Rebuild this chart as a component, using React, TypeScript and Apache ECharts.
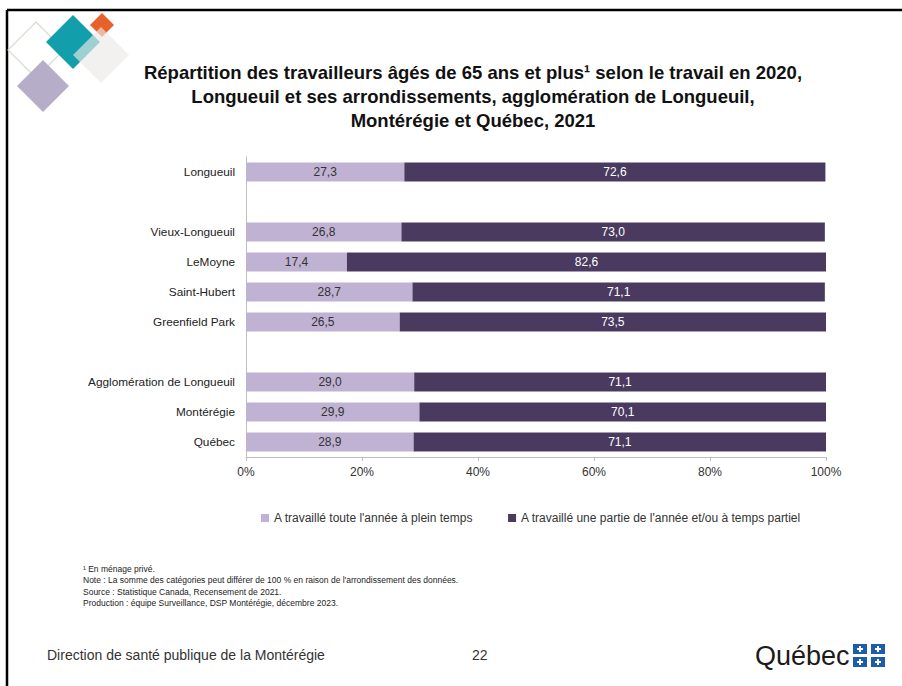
import React, { useEffect, useRef } from "react";
import * as echarts from "echarts";

const categories = [
  "Longueuil",
  " ",
  "Vieux-Longueuil",
  "LeMoyne",
  "Saint-Hubert",
  "Greenfield Park",
  "  ",
  "Agglomération de Longueuil",
  "Montérégie",
  "Québec",
];
const fullYear = [27.3, null, 26.8, 17.4, 28.7, 26.5, null, 29.0, 29.9, 28.9];
const partYear = [72.6, null, 73.0, 82.6, 71.1, 73.5, null, 71.1, 70.1, 71.1];
const seriesNames = [
  "A travaillé toute l'année à plein temps",
  "A travaillé une partie de l'année et/ou à temps partiel",
];
const titleLines = [
  "Répartition des travailleurs âgés de 65 ans et plus¹ selon le travail en 2020,",
  "Longueuil et ses arrondissements, agglomération de Longueuil,",
  "Montérégie et Québec, 2021",
];
const notes = [
  "¹ En ménage privé.",
  "Note : La somme des catégories peut différer de 100 % en raison de l'arrondissement des données.",
  "Source : Statistique Canada, Recensement de 2021.",
  "Production : équipe Surveillance, DSP Montérégie, décembre 2023.",
];
const footerLeft = "Direction de santé publique de la Montérégie";
const pageNumber = "22";

const FONT = "'Liberation Sans', sans-serif";

function diamond(cx: number, cy: number, r: number) {
  return [
    [cx, cy - r],
    [cx + r, cy],
    [cx, cy + r],
    [cx - r, cy],
  ];
}

const fmt = (p: any) =>
  p.value == null ? "" : Number(p.value).toFixed(1).replace(".", ",");

export default function App() {
  const ref = useRef<HTMLDivElement>(null);
  useEffect(() => {
    if (!ref.current) return;
    const chart = echarts.init(ref.current, null, { renderer: "svg" });
    const graphics: any[] = [
      // page border
      { type: "line", shape: { x1: 7, y1: 10, x2: 902, y2: 10 }, style: { stroke: "#000", lineWidth: 2.5 } },
      { type: "line", shape: { x1: 7, y1: 10, x2: 7, y2: 686 }, style: { stroke: "#000", lineWidth: 2.5 } },
      // logo diamonds
      { type: "polygon", shape: { points: diamond(36, 50, 28) }, style: { fill: "none", stroke: "#d6dccd", lineWidth: 1.2 } },
      { type: "polygon", shape: { points: diamond(43, 86, 26) }, style: { fill: "#b6aec9" } },
      { type: "polygon", shape: { points: diamond(73, 42, 27) }, style: { fill: "#139eab" } },
      { type: "polygon", shape: { points: diamond(102, 25, 12) }, style: { fill: "#e8612b" } },
      { type: "polygon", shape: { points: diamond(101, 55, 28) }, style: { fill: "#ece9e7", opacity: 0.65 } },
      // title
      ...titleLines.map((t, i) => ({
        type: "text",
        x: 473,
        y: 72 + i * 24,
        style: {
          text: t,
          fill: "#111",
          font: `bold 18.5px ${FONT}`,
          textAlign: "center",
          textVerticalAlign: "middle",
        },
      })),
      // notes
      ...notes.map((t, i) => ({
        type: "text",
        x: 83,
        y: 569 + i * 11.3,
        style: { text: t, fill: "#222", font: `8.5px ${FONT}`, textVerticalAlign: "middle" },
      })),
      // footer
      {
        type: "text",
        x: 47,
        y: 655,
        style: { text: footerLeft, fill: "#333", font: `14px ${FONT}`, textVerticalAlign: "middle" },
      },
      {
        type: "text",
        x: 472,
        y: 655,
        style: { text: pageNumber, fill: "#333", font: `14px ${FONT}`, textVerticalAlign: "middle" },
      },
      // Québec wordmark
      {
        type: "text",
        x: 755,
        y: 656,
        style: { text: "Québec", fill: "#1b1b1b", font: `27px ${FONT}`, textVerticalAlign: "middle" },
      },
      ...[
        [853, 644],
        [871, 644],
        [853, 657],
        [871, 657],
      ].flatMap(([x, y]) => [
        { type: "rect", shape: { x, y, width: 14, height: 10 }, style: { fill: "#1e5ba8" } },
        { type: "rect", shape: { x: x + 6, y: y + 2, width: 2, height: 6 }, style: { fill: "#fff" } },
        { type: "rect", shape: { x: x + 4, y: y + 4, width: 6, height: 2 }, style: { fill: "#fff" } },
      ]),
    ];

    chart.setOption({
      animation: false,
      textStyle: { fontFamily: FONT },
      grid: { left: 246, right: 76, top: 157, bottom: 229, containLabel: false },
      legend: {
        left: 256,
        top: 507,
        itemWidth: 8,
        itemHeight: 8,
        itemGap: 35,
        icon: "rect",
        textStyle: { fontSize: 12, color: "#333", fontFamily: FONT },
        data: seriesNames,
      },
      xAxis: {
        type: "value",
        min: 0,
        max: 100,
        interval: 20,
        axisLine: { show: true, lineStyle: { color: "#bfbfbf" } },
        axisTick: { show: true, length: 4, lineStyle: { color: "#bfbfbf" } },
        splitLine: { show: false },
        axisLabel: { formatter: "{value}%", color: "#333", fontSize: 12, margin: 9 },
      },
      yAxis: {
        type: "category",
        inverse: true,
        data: categories,
        axisLine: { show: true, lineStyle: { color: "#bfbfbf" } },
        axisTick: { show: false },
        axisLabel: { color: "#222", fontSize: 11.8, margin: 11 },
      },
      series: [
        {
          name: seriesNames[0],
          type: "bar",
          stack: "total",
          barWidth: 19,
          data: fullYear,
          itemStyle: { color: "#c0b2d3" },
          label: { show: true, position: "inside", formatter: fmt, color: "#333", fontSize: 12 },
        },
        {
          name: seriesNames[1],
          type: "bar",
          stack: "total",
          barWidth: 19,
          data: partYear,
          itemStyle: { color: "#4a3a60" },
          label: { show: true, position: "inside", formatter: fmt, color: "#fff", fontSize: 12 },
        },
      ],
      graphic: graphics,
    });
    return () => chart.dispose();
  }, []);
  return (
    <div
      ref={ref}
      style={{ position: "fixed", left: 0, top: 0, width: 902, height: 686, background: "#fff" }}
    />
  );
}
